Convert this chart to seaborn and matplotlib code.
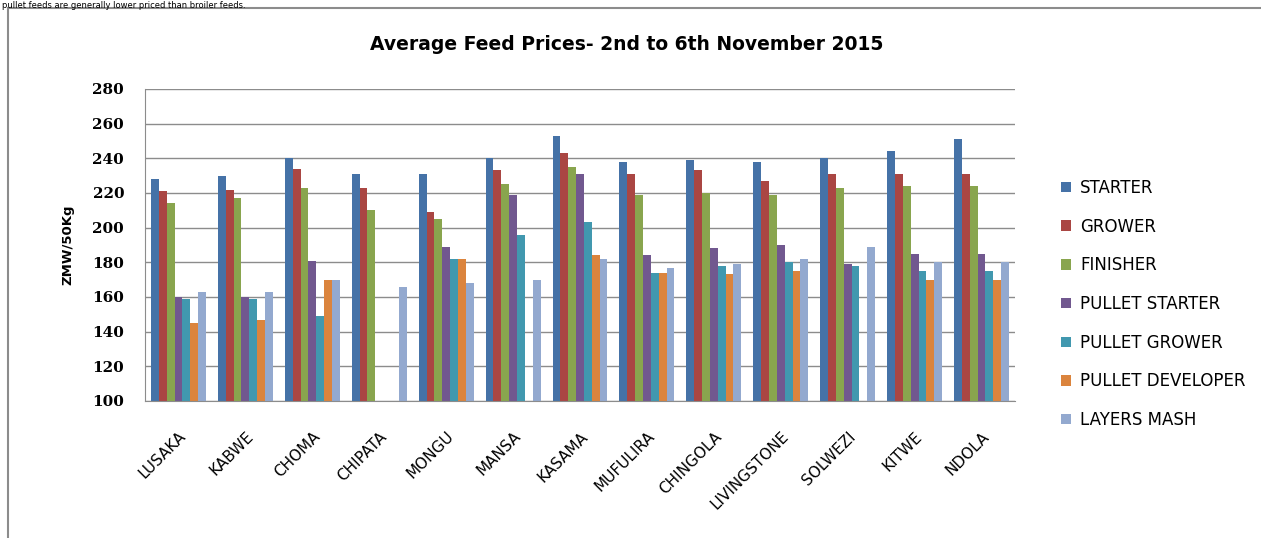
import numpy as np
import pandas as pd
import matplotlib
matplotlib.use("Agg")
import matplotlib.pyplot as plt
import seaborn as sns
from matplotlib.patches import Rectangle

towns = ["LUSAKA", "KABWE", "CHOMA", "CHIPATA", "MONGU", "MANSA", "KASAMA",
         "MUFULIRA", "CHINGOLA", "LIVINGSTONE", "SOLWEZI", "KITWE", "NDOLA"]
feeds = ["STARTER", "GROWER", "FINISHER", "PULLET STARTER", "PULLET GROWER",
         "PULLET DEVELOPER", "LAYERS MASH"]
nan = np.nan
starter = [228, 230, 240, 231, 231, 240, 253, 238, 239, 238, 240, 244, 251]
grower = [221, 222, 234, 223, 209, 233, 243, 231, 233, 227, 231, 231, 231]
finisher = [214, 217, 223, 210, 205, 225, 235, 219, 220, 219, 223, 224, 224]
pullet_starter = [160, 160, 181, nan, 189, 219, 231, 184, 188, 190, 179, 185, 185]
pullet_grower = [159, 159, 149, nan, 182, 196, 203, 174, 178, 180, 178, 175, 175]
pullet_developer = [145, 147, 170, nan, 182, nan, 184, 174, 173, 175, nan, 170, 170]
layers_mash = [163, 163, 170, 166, 168, 170, 182, 177, 179, 182, 189, 180, 180]
yticks = [100, 120, 140, 160, 180, 200, 220, 240, 260, 280]

series = [starter, grower, finisher, pullet_starter, pullet_grower,
          pullet_developer, layers_mash]
rows = []
for f, vals in zip(feeds, series):
    for t, v in zip(towns, vals):
        rows.append({"town": t, "feed": f, "price": v})
df = pd.DataFrame(rows)

colors = ["#4572A7", "#AA4643", "#89A54E", "#71588F", "#4198AF", "#DB843D", "#93A9CF"]

sns.set_style("white")
plt.rcParams["font.family"] = ["DejaVu Sans"]
plt.rcParams["text.color"] = "black"
plt.rcParams["xtick.color"] = "black"
plt.rcParams["ytick.color"] = "black"
plt.rcParams["axes.labelcolor"] = "black"

fig = plt.figure(figsize=(12.61, 5.38), dpi=100)
ax = fig.add_axes([145 / 1261, 1 - 401 / 538, 870 / 1261, 312 / 538])

sns.barplot(data=df.dropna(), x="town", y="price", hue="feed", order=towns,
            hue_order=feeds, palette=colors, width=0.82, saturation=1, ax=ax,
            edgecolor="none", linewidth=0, legend=True)

ax.set_ylim(100, 280)
ax.set_yticks(yticks)
ax.set_yticklabels([str(v) for v in yticks], fontsize=11, family="DejaVu Serif",
                   fontweight="bold")
ax.set_xlim(-0.5, len(towns) - 0.5)
ax.grid(axis="y", color="#8c8c8c", linewidth=1.0)
ax.set_axisbelow(True)
for s in ["top", "right"]:
    ax.spines[s].set_visible(False)
ax.spines["left"].set_color("#8c8c8c")
ax.spines["bottom"].set_color("#8c8c8c")
ax.tick_params(axis="y", length=5, color="#8c8c8c", labelcolor="black",
               direction="out", pad=10)
ax.tick_params(axis="x", length=0, pad=20, labelcolor="black")
ax.set_xticks(range(len(towns)))
ax.set_xticklabels(towns, rotation=45, ha="right", va="top",
                   rotation_mode="anchor", fontsize=11)
ax.set_xlabel("")
ax.set_ylabel("ZMW/50Kg", fontsize=9.5, fontweight="bold", labelpad=13)

fig.text(627 / 1261, 1 - 45 / 538, "Average Feed Prices- 2nd to 6th November 2015",
         ha="center", va="center", fontsize=13.5, fontweight="bold")

leg = ax.legend(loc="upper left", bbox_to_anchor=(1046 / 1261, 1 - 164 / 538),
                bbox_transform=fig.transFigure, frameon=False, fontsize=12,
                handlelength=0.6, handleheight=0.6, handletextpad=0.55,
                labelspacing=1.24)

# chart border and the sentence above it
fig.patches.append(Rectangle((8 / 1261, -0.1), 1.2, 1 - 8 / 538 + 0.1,
                             transform=fig.transFigure, fill=False,
                             edgecolor="#8c8c8c", linewidth=1.5))
fig.text(2 / 1261, 1 - 0.5 / 538,
         "pullet feeds are generally lower priced than broiler feeds.",
         ha="left", va="top", fontsize=6)

fig.savefig("out.png", dpi=100)
